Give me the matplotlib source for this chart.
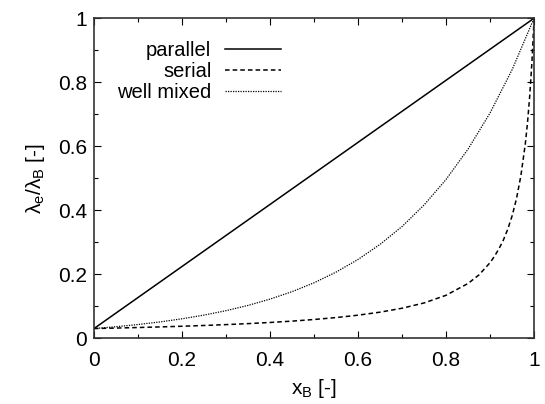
import matplotlib
matplotlib.use("Agg")
import matplotlib.pyplot as plt
from matplotlib.ticker import MultipleLocator

plt.rcParams['font.family'] = ['Liberation Sans', 'DejaVu Sans']
plt.rcParams['mathtext.fontset'] = 'custom'
plt.rcParams['mathtext.rm'] = 'Liberation Sans'

# values
xParallel = [0.0, 1.0]
yParallel = [0.03, 1.0]

xSerial = [0.0, 0.05, 0.1, 0.15, 0.2, 0.25, 0.3, 0.35, 0.4, 0.45, 0.5, 0.55, 0.6,
           0.65, 0.7, 0.75, 0.8, 0.85, 0.875, 0.9, 0.91, 0.92, 0.93, 0.94, 0.95,
           0.96, 0.97, 0.98, 0.985, 0.99, 0.995, 1.0]
ySerial = [0.030, 0.0315, 0.0332, 0.0351, 0.0372, 0.0396, 0.0423, 0.0454, 0.049,
           0.0532, 0.0583, 0.0643, 0.0718, 0.0812, 0.0935, 0.110, 0.134, 0.171,
           0.198, 0.236, 0.256, 0.279, 0.306, 0.340, 0.382, 0.436, 0.508, 0.607,
           0.673, 0.756, 0.861, 1.0]

xMixed = [0.0, 0.05, 0.1, 0.15, 0.2, 0.25, 0.3, 0.35, 0.4, 0.45, 0.5, 0.55, 0.6,
          0.65, 0.7, 0.75, 0.8, 0.85, 0.9, 0.95, 1.0]
yMixed = [0.030, 0.0357, 0.0426, 0.0507, 0.0605, 0.0721, 0.0859, 0.1023, 0.122,
          0.1453, 0.173, 0.2064, 0.246, 0.2931, 0.349, 0.4162, 0.496, 0.591,
          0.704, 0.839, 1.0]

labels = ['parallel', 'serial', 'well mixed']

fig = plt.figure(figsize=(5.45, 4.04), dpi=100)
ax = fig.add_axes([0.1725, 0.163, 0.8075, 0.792])

ax.plot(xParallel, yParallel, color='black', lw=1.1, label=labels[0])
ax.plot(xSerial, ySerial, color='black', lw=1.1, linestyle=(0, (3, 2)), label=labels[1])
ax.plot(xMixed, yMixed, color='black', lw=0.9, linestyle=(0, (1, 1)), label=labels[2])

ax.set_xlim(0, 1)
ax.set_ylim(0, 1)
ax.xaxis.set_major_locator(MultipleLocator(0.2))
ax.xaxis.set_minor_locator(MultipleLocator(0.1))
ax.yaxis.set_major_locator(MultipleLocator(0.2))
ax.yaxis.set_minor_locator(MultipleLocator(0.1))

def fmt(v, pos):
    return '%g' % round(v, 2)

ax.xaxis.set_major_formatter(plt.FuncFormatter(fmt))
ax.yaxis.set_major_formatter(plt.FuncFormatter(fmt))
ax.tick_params(which='both', direction='in', top=True, right=True, width=0.8, labelsize=15)
ax.tick_params(which='major', length=5)
ax.tick_params(which='minor', length=3)
ax.tick_params(axis='x', which='major', pad=9)
ax.tick_params(axis='y', which='major', pad=5)
for s in ax.spines.values():
    s.set_linewidth(1.2)
    s.set_color('#333333')

ax.set_xlabel('x$_\\mathregular{B}$ [-]', fontsize=15, labelpad=5)
ax.set_ylabel('λ$_\\mathregular{e}$/λ$_\\mathregular{B}$ [-]', fontsize=15, labelpad=8)

leg = ax.legend(loc='upper right', bbox_to_anchor=(0.443, 0.955), frameon=False,
                markerfirst=False, fontsize=14.5, handlelength=2.8,
                handletextpad=0.65, labelspacing=0.1, borderaxespad=0)
for col in leg._legend_handle_box.get_children():
    col.align = 'right'

fig.savefig('out.png', dpi=100)
